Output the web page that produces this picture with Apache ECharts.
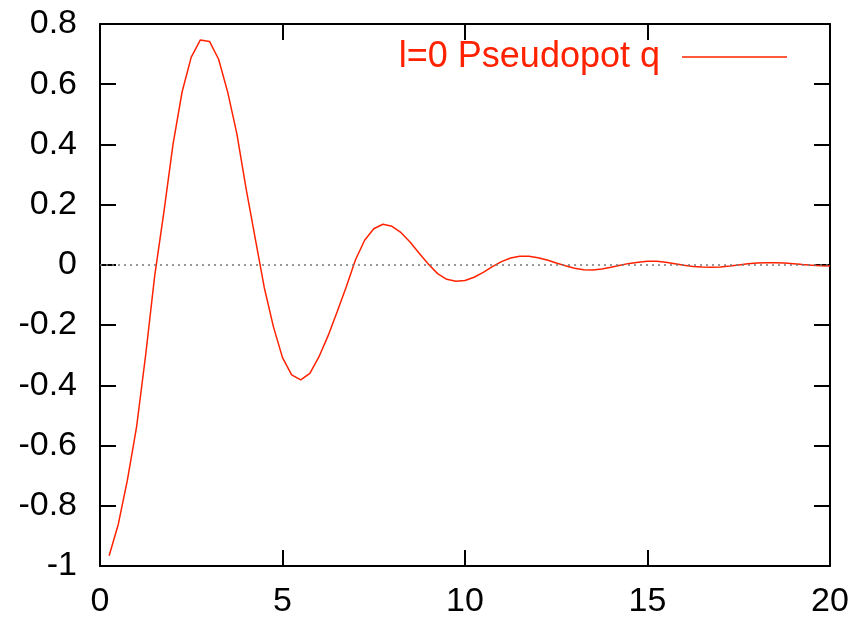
<!DOCTYPE html>
<html>
<head>
<meta charset="utf-8">
<script src="https://cdn.jsdelivr.net/npm/echarts@6.0.0/dist/echarts.min.js"></script>
<style>
  html, body { margin: 0; padding: 0; background: #fff; }
  #main { width: 854px; height: 621px; }
</style>
</head>
<body>
<div id="main"></div>
<script>
// q sampling points
var qValues = [
  0.25, 0.5, 0.75, 1.0, 1.25, 1.5, 1.75, 2.0, 2.25, 2.5,
  2.75, 3.0, 3.25, 3.5, 3.75, 4.0, 4.25, 4.5, 4.75, 5.0,
  5.25, 5.5, 5.75, 6.0, 6.25, 6.5, 6.75, 7.0, 7.25, 7.5,
  7.75, 8.0, 8.25, 8.5, 8.75, 9.0, 9.25, 9.5, 9.75, 10.0,
  10.25, 10.5, 10.75, 11.0, 11.25, 11.5, 11.75, 12.0, 12.25, 12.5,
  12.75, 13.0, 13.25, 13.5, 13.75, 14.0, 14.25, 14.5, 14.75, 15.0,
  15.25, 15.5, 15.75, 16.0, 16.25, 16.5, 16.75, 17.0, 17.25, 17.5,
  17.75, 18.0, 18.25, 18.5, 18.75, 19.0, 19.25, 19.5, 19.75, 20.0
];
// l=0 pseudopotential values
var potValues = [
  -0.966, -0.862, -0.715, -0.54, -0.30, -0.035, 0.175, 0.40, 0.575, 0.69,
  0.747, 0.742, 0.683, 0.573, 0.435, 0.255, 0.09, -0.075, -0.205, -0.308,
  -0.365, -0.382, -0.36, -0.305, -0.235, -0.155, -0.072, 0.017, 0.082, 0.12,
  0.135, 0.128, 0.107, 0.075, 0.038, 0.002, -0.029, -0.048, -0.054, -0.052,
  -0.041, -0.025, -0.006, 0.011, 0.023, 0.029, 0.029, 0.024, 0.016, 0.006,
  -0.003, -0.011, -0.016, -0.017, -0.014, -0.008, -0.001, 0.005, 0.009, 0.012,
  0.012, 0.009, 0.004, -0.001, -0.005, -0.007, -0.008, -0.007, -0.004, 0.0,
  0.004, 0.006, 0.007, 0.007, 0.006, 0.004, 0.001, -0.001, -0.003, -0.004
];
var xTicks = [0, 20, 5];      // min, max, step
var yTicks = [-1, 0.8, 0.2];  // min, max, step
var seriesName = 'l=0 Pseudopot q';

var lineColor = '#ff2200';
var fontName = '"Liberation Sans", Arial, Helvetica, sans-serif';

var chart = echarts.init(document.getElementById('main'));

var points = [];
for (var i = 0; i < qValues.length; i++) {
  points.push([qValues[i], potValues[i]]);
}

function makeAxis(pos, range, showLabel, margin) {
  return {
    type: 'value',
    position: pos,
    min: range[0],
    max: range[1],
    interval: range[2],
    axisLine: { show: true, onZero: false, lineStyle: { color: '#000', width: 2 } },
    axisTick: { show: true, inside: true, length: 16, lineStyle: { color: '#000', width: 2 } },
    axisLabel: {
      show: showLabel,
      margin: margin,
      color: '#000',
      fontSize: 34,
      fontFamily: fontName
    },
    splitLine: { show: false }
  };
}

var option = {
  animation: false,
  backgroundColor: '#fff',
  grid: { left: 100, right: 24, top: 24, bottom: 55 },
  legend: {
    right: 67,
    top: 39,
    padding: 0,
    align: 'right',
    icon: 'rect',
    itemWidth: 105,
    itemHeight: 1.5,
    textStyle: {
      color: lineColor,
      fontSize: 36,
      fontFamily: fontName,
      padding: [0, 17, 0, 0]
    },
    data: [seriesName]
  },
  xAxis: [
    makeAxis('bottom', xTicks, true, 19),
    makeAxis('top', xTicks, false, 8)
  ],
  yAxis: [
    makeAxis('left', yTicks, true, 23),
    makeAxis('right', yTicks, false, 8)
  ],
  series: [{
    name: seriesName,
    type: 'line',
    data: points,
    showSymbol: false,
    color: lineColor,
    lineStyle: { color: lineColor, width: 1.5 },
    markLine: {
      silent: true,
      symbol: 'none',
      label: { show: false },
      lineStyle: { color: '#777', width: 1.5, type: [2, 4] },
      data: [{ yAxis: 0 }]
    }
  }]
};

chart.setOption(option);
</script>
</body>
</html>
